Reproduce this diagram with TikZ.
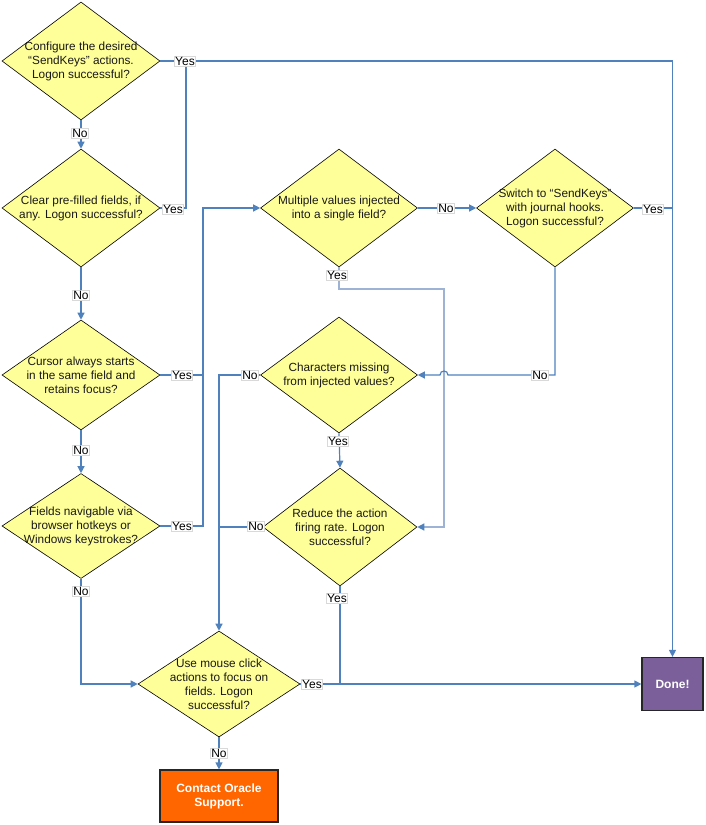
\documentclass[tikz,border=0pt]{standalone}
\usepackage{fontspec}
\setmainfont{Liberation Sans}
\usepackage{tikz}
\usetikzlibrary{shapes.geometric,arrows.meta}
\definecolor{decfill}{HTML}{FFFF99}
\definecolor{flowblue}{HTML}{4F81BD}
\definecolor{flowpale}{HTML}{9DB3D6}
\definecolor{donepurple}{HTML}{7A5F9A}
\definecolor{supportorange}{HTML}{FF6600}
\definecolor{lblgray}{HTML}{D9D9D9}

\begin{document}
\begin{tikzpicture}
  [x=1pt,y=-1pt,
   dec/.style={diamond,draw=black,line width=0.6pt,fill=decfill,
     minimum width=158pt,minimum height=118pt,inner xsep=-40pt,inner ysep=-10pt,
     align=center,text=black!90,font=\fontsize{11.8}{14}\selectfont},
   endbox/.style={rectangle,draw=black!85,line width=1.2pt,text=white,
     align=center,font=\bfseries\fontsize{12}{14}\selectfont},
   ln/.style={draw=flowblue,line width=1.2pt},
   lnpale/.style={draw=flowpale,line width=1.3pt},
   arr/.style={-{Triangle[length=7pt,width=7pt,color=flowblue]}},
   lbl/.style={fill=white,draw=lblgray,line width=0.5pt,inner sep=0.6pt,
     text=black,font=\fontsize{12}{12}\selectfont}]
  \useasboundingbox (0,0) rectangle (706,825);

  \node[dec] (d1) at (81,61) {Configure the desired\\``SendKeys'' actions.\\Logon successful?};
  \node[dec] (d2) at (81,208) {Clear pre-filled fields, if\\any. Logon successful?};
  \node[dec,minimum height=110pt] (d3) at (81,375) {Cursor always starts\\in the same field and\\retains focus?};
  \node[dec,minimum height=105pt] (d4) at (81,526) {Fields navigable via\\browser hotkeys or\\Windows keystrokes?};
  \node[dec,minimum width=162pt,minimum height=106pt] (d5) at (219,684) {Use mouse click\\actions to focus on\\fields. Logon\\successful?};
  \node[dec,minimum width=157pt] (d6) at (339,208) {Multiple values injected\\into a single field?};
  \node[dec,minimum width=157pt] (d7) at (555,208) {Switch to ``SendKeys''\\with journal hooks.\\Logon successful?};
  \node[dec,minimum width=157pt,minimum height=116pt] (d8) at (339,375) {Characters missing\\from injected values?};
  \node[dec,minimum width=154pt] (d9) at (340,527) {Reduce the action\\firing rate. Logon\\successful?};

  \node[endbox,fill=donepurple,minimum width=61pt,minimum height=53pt] (done) at (672.5,684) {Done!};
  \node[endbox,fill=supportorange,minimum width=118pt,minimum height=52pt] (support) at (219,796) {Contact Oracle\\Support.};

  \coordinate (j1) at (186,61);
  \coordinate (j2) at (203,375);
  \coordinate (j3) at (444,289);

  \draw[ln,arr] (d1.east) -| (done.north);
  \draw[ln,arr] (d1.south) -- (d2.north);
  \draw[ln] (d2.east) -| (j1);
  \draw[ln,arr] (d2.south) -- (d3.north);
  \draw[ln,arr] (d3.east) -- (j2) |- (d6.west);
  \draw[ln,arr] (d3.south) -- (d4.north);
  \draw[ln] (d4.east) -| (j2);
  \draw[ln,arr] (d4.south) |- (d5.west);
  \draw[ln,arr] (d5.east) -- (done.west);
  \draw[ln,arr] (d5.south) -- (support.north);

  \draw[ln,arr] (d6.east) -- (d7.west);
  \draw[lnpale,arr] (d6.south) |- (j3) |- (d9.east);
  \draw[ln] (d7.east) -- (d7.east -| done.north);
  \draw[ln,arr] (d7.south) |- (448,375) .. controls (448,369.7) and (440,369.7) .. (440,375) -- (d8.east);

  \draw[ln,arr] (d8.west) -| (d5.north);
  \draw[ln,arr] (d8.south) -- (d9.north);
  \draw[ln] (d9.west) -- (d9.west -| d5.north);
  \draw[ln] (d9.south) -- (d9.south |- d5.east);

  \node[lbl] (y1) at (185,61) {Yes};
  \node[lbl] (n1) at (80,133) {No};
  \node[lbl] (y2) at (173,209) {Yes};
  \node[lbl] (n2) at (81,295) {No};
  \node[lbl] (y3) at (182,375) {Yes};
  \node[lbl] (n3) at (81,450) {No};
  \node[lbl] (y4) at (182,526) {Yes};
  \node[lbl] (n4) at (81,591) {No};
  \node[lbl] (y5) at (312,684) {Yes};
  \node[lbl] (n5) at (219,753) {No};
  \node[lbl] (n6) at (446,208) {No};
  \node[lbl] (y6) at (337,275) {Yes};
  \node[lbl] (y7) at (653,209) {Yes};
  \node[lbl] (n7) at (540,375) {No};
  \node[lbl] (n8) at (250,375) {No};
  \node[lbl] (y8) at (338,441) {Yes};
  \node[lbl] (n9) at (256,526) {No};
  \node[lbl] (y9) at (337,598) {Yes};
\end{tikzpicture}
\end{document}
